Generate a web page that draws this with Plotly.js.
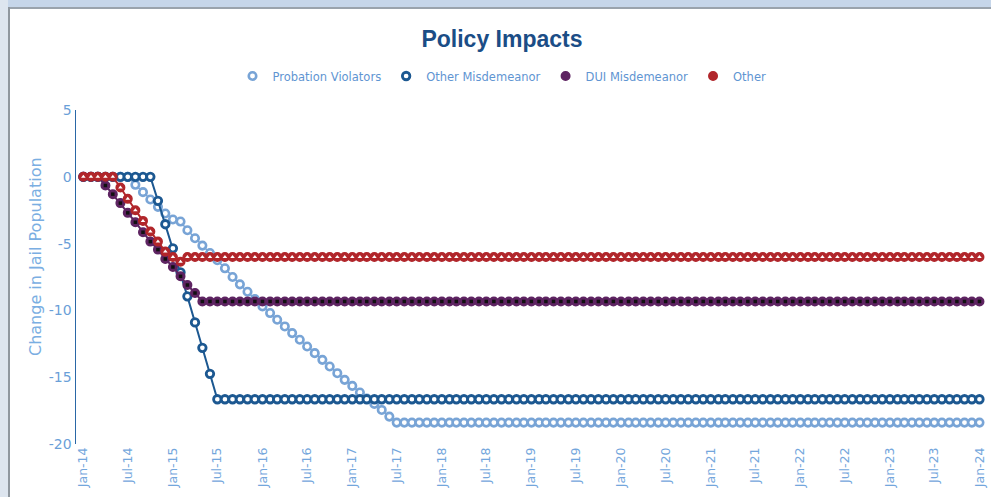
<!DOCTYPE html>
<html>
<head>
<meta charset="utf-8">
<script src="https://cdn.plot.ly/plotly-3.0.1.min.js"></script>
<style>
html,body{margin:0;padding:0;background:#fff;width:991px;height:497px;overflow:hidden;}
#chart{position:absolute;left:0;top:0;width:991px;height:497px;}
#topband{position:absolute;left:0;top:0;width:991px;height:7px;background:#c6d6ea;}
#topline{position:absolute;left:0;top:7px;width:991px;height:2px;background:#9aa3ad;}
#leftband{position:absolute;left:0;top:0;width:8px;height:497px;background:#dde5ef;}
#leftline{position:absolute;left:8px;top:7px;width:2px;height:490px;background:#8f979f;}
</style>
</head>
<body>
<div id="chart"></div>
<div id="topband"></div><div id="topline"></div><div id="leftband"></div><div id="leftline"></div>
<script>
var months = [
'2014-01-01','2014-02-01','2014-03-01','2014-04-01','2014-05-01','2014-06-01','2014-07-01','2014-08-01','2014-09-01','2014-10-01','2014-11-01','2014-12-01',
'2015-01-01','2015-02-01','2015-03-01','2015-04-01','2015-05-01','2015-06-01','2015-07-01','2015-08-01','2015-09-01','2015-10-01','2015-11-01','2015-12-01',
'2016-01-01','2016-02-01','2016-03-01','2016-04-01','2016-05-01','2016-06-01','2016-07-01','2016-08-01','2016-09-01','2016-10-01','2016-11-01','2016-12-01',
'2017-01-01','2017-02-01','2017-03-01','2017-04-01','2017-05-01','2017-06-01','2017-07-01','2017-08-01','2017-09-01','2017-10-01','2017-11-01','2017-12-01',
'2018-01-01','2018-02-01','2018-03-01','2018-04-01','2018-05-01','2018-06-01','2018-07-01','2018-08-01','2018-09-01','2018-10-01','2018-11-01','2018-12-01',
'2019-01-01','2019-02-01','2019-03-01','2019-04-01','2019-05-01','2019-06-01','2019-07-01','2019-08-01','2019-09-01','2019-10-01','2019-11-01','2019-12-01',
'2020-01-01','2020-02-01','2020-03-01','2020-04-01','2020-05-01','2020-06-01','2020-07-01','2020-08-01','2020-09-01','2020-10-01','2020-11-01','2020-12-01',
'2021-01-01','2021-02-01','2021-03-01','2021-04-01','2021-05-01','2021-06-01','2021-07-01','2021-08-01','2021-09-01','2021-10-01','2021-11-01','2021-12-01',
'2022-01-01','2022-02-01','2022-03-01','2022-04-01','2022-05-01','2022-06-01','2022-07-01','2022-08-01','2022-09-01','2022-10-01','2022-11-01','2022-12-01',
'2023-01-01','2023-02-01','2023-03-01','2023-04-01','2023-05-01','2023-06-01','2023-07-01','2023-08-01','2023-09-01','2023-10-01','2023-11-01','2023-12-01',
'2024-01-01'];

var probationViolators = [
0,0,0,0,0,0,0,
-0.6,-1.15,-1.7,-2.25,-2.75,-3.2,-3.35,-4.0,-4.6,-5.15,
-5.7,-6.25,-6.85,-7.5,-8.05,-8.6,-9.15,-9.7,-10.2,-10.7,
-11.2,-11.7,-12.2,-12.7,-13.2,-13.7,-14.2,-14.7,-15.2,-15.65,
-16.15,-16.6,-17.0,-17.45,-17.95,-18.4,
-18.4,-18.4,-18.4,-18.4,-18.4,-18.4,-18.4,-18.4,-18.4,-18.4,
-18.4,-18.4,-18.4,-18.4,-18.4,-18.4,-18.4,-18.4,-18.4,-18.4,
-18.4,-18.4,-18.4,-18.4,-18.4,-18.4,-18.4,-18.4,-18.4,-18.4,
-18.4,-18.4,-18.4,-18.4,-18.4,-18.4,-18.4,-18.4,-18.4,-18.4,
-18.4,-18.4,-18.4,-18.4,-18.4,-18.4,-18.4,-18.4,-18.4,-18.4,
-18.4,-18.4,-18.4,-18.4,-18.4,-18.4,-18.4,-18.4,-18.4,-18.4,
-18.4,-18.4,-18.4,-18.4,-18.4,-18.4,-18.4,-18.4,-18.4,-18.4,
-18.4,-18.4,-18.4,-18.4,-18.4,-18.4,-18.4,-18.4];

var otherMisdemeanor = [
0,0,0,0,0,0,0,0,0,0,
-1.8,-3.55,-5.35,-7.15,-8.95,-10.9,-12.8,-14.75,-16.65,
-16.65,-16.65,-16.65,-16.65,-16.65,-16.65,-16.65,-16.65,-16.65,-16.65,
-16.65,-16.65,-16.65,-16.65,-16.65,-16.65,-16.65,-16.65,-16.65,-16.65,
-16.65,-16.65,-16.65,-16.65,-16.65,-16.65,-16.65,-16.65,-16.65,-16.65,
-16.65,-16.65,-16.65,-16.65,-16.65,-16.65,-16.65,-16.65,-16.65,-16.65,
-16.65,-16.65,-16.65,-16.65,-16.65,-16.65,-16.65,-16.65,-16.65,-16.65,
-16.65,-16.65,-16.65,-16.65,-16.65,-16.65,-16.65,-16.65,-16.65,-16.65,
-16.65,-16.65,-16.65,-16.65,-16.65,-16.65,-16.65,-16.65,-16.65,-16.65,
-16.65,-16.65,-16.65,-16.65,-16.65,-16.65,-16.65,-16.65,-16.65,-16.65,
-16.65,-16.65,-16.65,-16.65,-16.65,-16.65,-16.65,-16.65,-16.65,-16.65,
-16.65,-16.65,-16.65,-16.65,-16.65,-16.65,-16.65,-16.65,-16.65,-16.65,
-16.65,-16.65];

var duiMisdemeanor = [
0,0,0,
-0.65,-1.3,-1.97,-2.7,-3.4,-4.15,-4.85,-5.45,-6.15,-6.75,-7.45,-8.1,-8.7,-9.33,
-9.33,-9.33,-9.33,-9.33,-9.33,-9.33,-9.33,-9.33,-9.33,-9.33,
-9.33,-9.33,-9.33,-9.33,-9.33,-9.33,-9.33,-9.33,-9.33,-9.33,
-9.33,-9.33,-9.33,-9.33,-9.33,-9.33,-9.33,-9.33,-9.33,-9.33,
-9.33,-9.33,-9.33,-9.33,-9.33,-9.33,-9.33,-9.33,-9.33,-9.33,
-9.33,-9.33,-9.33,-9.33,-9.33,-9.33,-9.33,-9.33,-9.33,-9.33,
-9.33,-9.33,-9.33,-9.33,-9.33,-9.33,-9.33,-9.33,-9.33,-9.33,
-9.33,-9.33,-9.33,-9.33,-9.33,-9.33,-9.33,-9.33,-9.33,-9.33,
-9.33,-9.33,-9.33,-9.33,-9.33,-9.33,-9.33,-9.33,-9.33,-9.33,
-9.33,-9.33,-9.33,-9.33,-9.33,-9.33,-9.33,-9.33,-9.33,-9.33,
-9.33,-9.33,-9.33,-9.33,-9.33,-9.33,-9.33,-9.33,-9.33,-9.33,
-9.33,-9.33,-9.33,-9.33];

var otherOffense = [
0,0,0,0,0,
-0.8,-1.65,-2.5,-3.3,-4.1,-4.85,-5.6,-6.0,-6.35,
-6,-6,-6,-6,-6,-6,-6,-6,-6,-6,
-6,-6,-6,-6,-6,-6,-6,-6,-6,-6,
-6,-6,-6,-6,-6,-6,-6,-6,-6,-6,
-6,-6,-6,-6,-6,-6,-6,-6,-6,-6,
-6,-6,-6,-6,-6,-6,-6,-6,-6,-6,
-6,-6,-6,-6,-6,-6,-6,-6,-6,-6,
-6,-6,-6,-6,-6,-6,-6,-6,-6,-6,
-6,-6,-6,-6,-6,-6,-6,-6,-6,-6,
-6,-6,-6,-6,-6,-6,-6,-6,-6,-6,
-6,-6,-6,-6,-6,-6,-6,-6,-6,-6,
-6,-6,-6,-6,-6,-6,-6];

var seriesNames = ['Probation Violators','Other Misdemeanor','DUI Misdemeanor','Other'];

var tickDates = ['2014-01-01','2014-07-01','2015-01-01','2015-07-01','2016-01-01','2016-07-01','2017-01-01','2017-07-01',
'2018-01-01','2018-07-01','2019-01-01','2019-07-01','2020-01-01','2020-07-01','2021-01-01','2021-07-01',
'2022-01-01','2022-07-01','2023-01-01','2023-07-01','2024-01-01'];
var tickLabels = ['Jan-14','Jul-14','Jan-15','Jul-15','Jan-16','Jul-16','Jan-17','Jul-17',
'Jan-18','Jul-18','Jan-19','Jul-19','Jan-20','Jul-20','Jan-21','Jul-21',
'Jan-22','Jul-22','Jan-23','Jul-23','Jan-24'];
var yTicks = [5,0,-5,-10,-15,-20];
var yTitle = 'Change in Jail Population';
var chartTitle = 'Policy Impacts';

var cLight = '#78a4d6', cDark = '#1c5891', cPurple = '#5e2462', cRed = '#b1262b';

function lineTrace(y, name, color, width) {
  return {x: months, y: y, name: name, type: 'scatter', mode: 'lines', showlegend: false,
          hoverinfo: 'skip', line: {color: color, width: width}};
}

var traces = [
  lineTrace(probationViolators, seriesNames[0], cLight, 1.5),
  {x: months, y: probationViolators, name: seriesNames[0], type: 'scatter', mode: 'markers',
   marker: {symbol: 'circle', size: 7.5, color: '#ffffff', line: {color: cLight, width: 2.6}}},
  lineTrace(otherMisdemeanor, seriesNames[1], cDark, 2),
  {x: months, y: otherMisdemeanor, name: seriesNames[1], type: 'scatter', mode: 'markers',
   marker: {symbol: 'circle', size: 7.5, color: '#ffffff', line: {color: cDark, width: 2.8}}},
  lineTrace(duiMisdemeanor, seriesNames[2], cPurple, 2),
  {x: months, y: duiMisdemeanor, name: seriesNames[2], type: 'scatter', mode: 'markers',
   marker: {symbol: 'circle', size: 8.5, color: cPurple, line: {color: cPurple, width: 1.5}}},
  {x: months, y: duiMisdemeanor, name: seriesNames[2], type: 'scatter', mode: 'markers', showlegend: false,
   hoverinfo: 'skip', marker: {symbol: 'square', size: 3.5, color: '#111111'}},
  lineTrace(otherOffense, seriesNames[3], cRed, 2),
  {x: months, y: otherOffense, name: seriesNames[3], type: 'scatter', mode: 'markers',
   marker: {symbol: 'circle', size: 8.5, color: cRed, line: {color: cRed, width: 1.5}}},
  {x: months, y: otherOffense, name: seriesNames[3], type: 'scatter', mode: 'markers', showlegend: false,
   hoverinfo: 'skip', marker: {symbol: 'triangle-up', size: 4, color: '#ffffff'}}
];

var layout = {
  width: 991, height: 497,
  margin: {l: 76, r: 0, t: 110, b: 53},
  paper_bgcolor: '#ffffff', plot_bgcolor: '#ffffff',
  font: {family: 'DejaVu Sans, Verdana, sans-serif', color: '#6a9fd8'},
  title: {text: '<b>' + chartTitle + '</b>', xref: 'container', x: 502/991, xanchor: 'center',
          yref: 'container', y: 1 - 39/497, yanchor: 'middle',
          font: {family: 'Liberation Sans, Arial, sans-serif', size: 23, color: '#1b4d86'}},
  showlegend: true,
  legend: {orientation: 'h', xref: 'container', yref: 'container', x: 502/991, xanchor: 'center',
           y: 1 - 76/497, yanchor: 'middle', font: {size: 11.5, color: '#5f95d2'},
           itemwidth: 30, tracegroupgap: 0, bgcolor: 'rgba(0,0,0,0)'},
  xaxis: {type: 'date', range: ['2013-12-02', '2024-02-17'], tickmode: 'array',
          tickvals: tickDates, ticktext: tickLabels, tickangle: -90,
          tickfont: {size: 12.5, color: '#73a6dc'}, showgrid: false, zeroline: false,
          showline: false, ticks: '', automargin: false},
  yaxis: {range: [-20, 5], tickmode: 'array', tickvals: yTicks, ticktext: yTicks.map(String),
          tickfont: {size: 14, color: '#6a9fd8'}, showgrid: false, zeroline: false,
          showline: true, linecolor: '#2a67a6', linewidth: 1.5, ticks: '', automargin: false},
  annotations: [
    {text: yTitle, xref: 'paper', yref: 'paper', x: (35 - 76) / 915, y: (444 - 257) / 334,
     xanchor: 'center', yanchor: 'middle', textangle: -90, showarrow: false,
     font: {size: 16, color: '#7aaee2'}}
  ]
};

Plotly.newPlot('chart', traces, layout, {displayModeBar: false, staticPlot: true});
</script>
</body>
</html>
